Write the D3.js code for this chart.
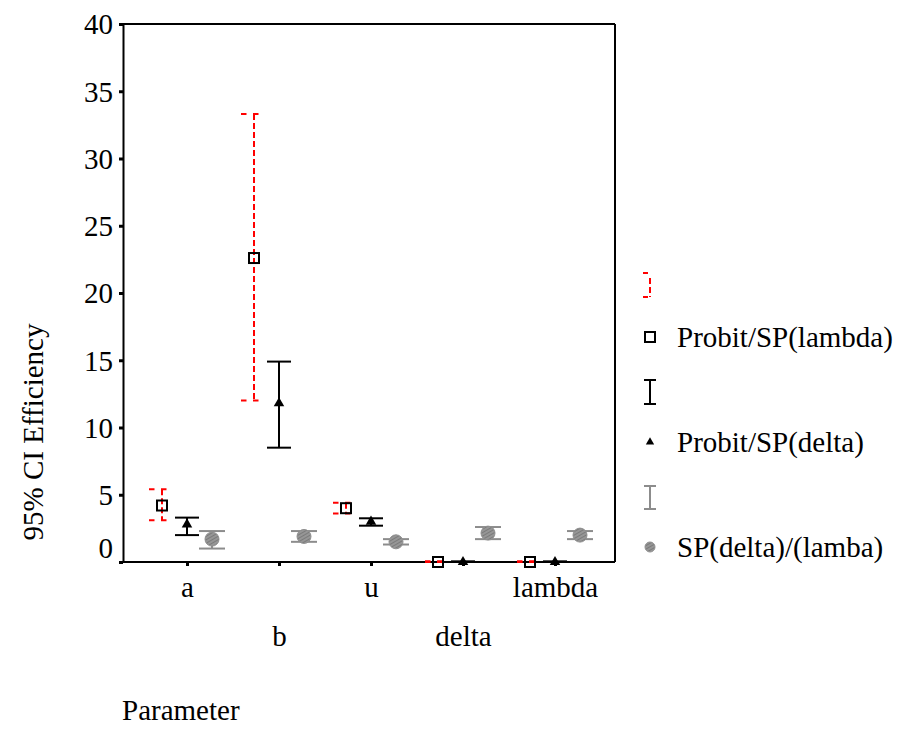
<!DOCTYPE html>
<html><head><meta charset="utf-8">
<script src="https://cdn.jsdelivr.net/npm/d3@7"></script>
<style>
body{margin:0;background:#fff}
</style>
</head><body>
<svg id="c" width="898" height="738"></svg>
<script>
// ---- data ----
const categories = ["a", "b", "u", "delta", "lambda"];
const seriesNames = ["Probit/SP(lambda)", "Probit/SP(delta)", "SP(delta)/(lamba)"];
const lambdaMean = [4.2, 22.6, 4.0, 0.0, 0.0];
const lambdaLow  = [3.1, 12.0, 3.6, 0.0, 0.0];
const lambdaHigh = [5.4, 33.3, 4.4, 0.05, 0.05];
const deltaMean  = [2.8, 11.8, 3.0, 0.0, 0.0];
const deltaLow   = [2.0, 8.5, 2.7, 0.0, 0.0];
const deltaHigh  = [3.3, 14.9, 3.25, 0.05, 0.05];
const spMean     = [1.7, 1.9, 1.5, 2.15, 2.0];
const spLow      = [1.0, 1.5, 1.3, 1.7, 1.7];
const spHigh     = [2.3, 2.3, 1.7, 2.6, 2.3];
const yTicks     = [0, 5, 10, 15, 20, 25, 30, 35, 40];
const yTitle = "95% CI Efficiency";
const xTitle = "Parameter";

// ---- layout ----
const plot = {left: 123, right: 615, top: 24, bottom: 562};
const FS = 29;
const FONT = '"Liberation Serif"';
const svg = d3.select("#c");

const x = d3.scalePoint().domain(categories).range([plot.left + 64, plot.right - 60]);
const y = d3.scaleLinear().domain([0, 40]).range([plot.bottom, plot.top]);

const RED = "#ff0000", BLACK = "#000000", GRAY = "#8c8c8c";

function styleText(sel) {
  return sel.style("font-family", FONT).style("font-size", FS + "px").style("fill", "#000");
}

// hatch pattern for gray circles
const defs = svg.append("defs");
const pat = defs.append("pattern").attr("id", "hatch").attr("patternUnits", "userSpaceOnUse")
  .attr("width", 3).attr("height", 3).attr("patternTransform", "rotate(60)");
pat.append("rect").attr("width", 3).attr("height", 3).attr("fill", "#969696");
pat.append("rect").attr("width", 1).attr("height", 3).attr("fill", "#7a7a7a");

// ---- frame ----
svg.append("line").attr("x1", plot.left).attr("x2", plot.right).attr("y1", plot.top).attr("y2", plot.top)
  .attr("stroke", "#000").attr("stroke-width", 2);
svg.append("line").attr("x1", plot.right).attr("x2", plot.right).attr("y1", plot.top).attr("y2", plot.bottom)
  .attr("stroke", "#000").attr("stroke-width", 2);

// ---- axes ----
const yAx = svg.append("g").attr("transform", `translate(${plot.left},0)`)
  .call(d3.axisLeft(y).tickValues(yTicks).tickSize(4).tickSizeOuter(0).tickPadding(6));
yAx.attr("font-family", null);
yAx.select(".domain").attr("stroke-width", 2);
yAx.selectAll(".tick line").attr("stroke-width", 3);
styleText(yAx.selectAll(".tick text")).attr("dy", d => d === 0 ? "-0.15em" : "0.34em");

const xAx = svg.append("g").attr("transform", `translate(0,${plot.bottom})`)
  .call(d3.axisBottom(x).tickSize(4).tickSizeOuter(0).tickPadding(6));
xAx.attr("font-family", null);
xAx.select(".domain").attr("stroke-width", 2).attr("d", `M${plot.left},0H${plot.right}`);
xAx.selectAll(".tick line").attr("stroke-width", 3);
styleText(xAx.selectAll(".tick text")).attr("dy", "0").attr("y", (d, i) => i % 2 === 0 ? 35 : 84);

// ---- series ----
const seriesData = [
  {name: seriesNames[0], mean: lambdaMean, low: lambdaLow, high: lambdaHigh, color: RED, off: -25, type: "lambda"},
  {name: seriesNames[1], mean: deltaMean, low: deltaLow, high: deltaHigh, color: BLACK, off: 0, type: "delta"},
  {name: seriesNames[2], mean: spMean, low: spLow, high: spHigh, color: GRAY, off: 25, type: "sp"}
];

const tri = d3.symbol().type(d3.symbolTriangle).size(48);

seriesData.forEach(s => {
  const g = svg.append("g");
  categories.forEach((c, i) => {
    const cx = x(c) + s.off;
    const yl = y(s.low[i]), yh = y(s.high[i]);
    if (s.type === "lambda") {
      g.append("line").attr("x1", cx).attr("x2", cx).attr("y1", yh).attr("y2", yl)
        .attr("stroke", RED).attr("stroke-width", 2).attr("stroke-dasharray", "6,3");
      [yh, yl].forEach(yy => g.append("line").attr("x1", cx - 13).attr("x2", cx + 5)
        .attr("y1", yy).attr("y2", yy).attr("stroke", RED).attr("stroke-width", 2)
        .attr("stroke-dasharray", "5.5,6.5"));
    } else {
      const hw = s.type === "delta" ? 12 : 13;
      g.append("line").attr("x1", cx).attr("x2", cx).attr("y1", yh).attr("y2", yl)
        .attr("stroke", s.color).attr("stroke-width", 2);
      [yh, yl].forEach(yy => g.append("line").attr("x1", cx - hw).attr("x2", cx + hw)
        .attr("y1", yy).attr("y2", yy).attr("stroke", s.color).attr("stroke-width", 2));
    }
  });
});

// markers on top
seriesData.forEach(s => {
  const g = svg.append("g");
  categories.forEach((c, i) => {
    const cx = x(c) + s.off, ym = y(s.mean[i]);
    if (s.type === "lambda") {
      g.append("rect").attr("x", cx - 5).attr("y", ym - 5).attr("width", 10).attr("height", 10)
        .attr("fill", "none").attr("stroke", "#000").attr("stroke-width", 2);
    } else if (s.type === "delta") {
      g.append("path").attr("d", tri).attr("transform", `translate(${cx},${ym})`).attr("fill", "#000");
    } else {
      g.append("circle").attr("cx", cx).attr("cy", ym).attr("r", 7)
        .attr("fill", "url(#hatch)").attr("stroke", "#909090").attr("stroke-width", 1);
    }
  });
});

// ---- legend ----
const lx = 650, tx = 677;
const leg = svg.append("g");
// red dashed I
leg.append("line").attr("x1", lx).attr("x2", lx).attr("y1", 275).attr("y2", 297)
  .attr("stroke", RED).attr("stroke-width", 2).attr("stroke-dasharray", "6,3").attr("stroke-dashoffset", -3);
[273, 297].forEach(yy => leg.append("line").attr("x1", lx - 7).attr("x2", lx).attr("y1", yy).attr("y2", yy)
  .attr("stroke", RED).attr("stroke-width", 2).attr("stroke-dasharray", "5,100"));
leg.append("rect").attr("x", lx - 5).attr("y", 337 - 5).attr("width", 10).attr("height", 10)
  .attr("fill", "none").attr("stroke", "#000").attr("stroke-width", 2);
styleText(leg.append("text").attr("x", tx).attr("y", 337).attr("dy", "0.34em")).text(seriesNames[0]);
// black I
leg.append("line").attr("x1", lx).attr("x2", lx).attr("y1", 380).attr("y2", 404).attr("stroke", "#000").attr("stroke-width", 2);
[380, 404].forEach(yy => leg.append("line").attr("x1", lx - 6).attr("x2", lx + 6).attr("y1", yy).attr("y2", yy)
  .attr("stroke", "#000").attr("stroke-width", 2));
leg.append("path").attr("d", d3.symbol().type(d3.symbolTriangle).size(30)).attr("transform", `translate(${lx},442)`).attr("fill", "#000");
styleText(leg.append("text").attr("x", tx).attr("y", 442).attr("dy", "0.34em")).text(seriesNames[1]);
// gray I
leg.append("line").attr("x1", lx).attr("x2", lx).attr("y1", 486).attr("y2", 509).attr("stroke", GRAY).attr("stroke-width", 2);
[486, 509].forEach(yy => leg.append("line").attr("x1", lx - 6).attr("x2", lx + 6).attr("y1", yy).attr("y2", yy)
  .attr("stroke", GRAY).attr("stroke-width", 2));
leg.append("circle").attr("cx", lx).attr("cy", 547).attr("r", 5).attr("fill", "url(#hatch)").attr("stroke", "#909090");
styleText(leg.append("text").attr("x", tx).attr("y", 547).attr("dy", "0.34em")).text(seriesNames[2]);

// ---- titles ----
styleText(svg.append("text").attr("transform", "translate(43,432) rotate(-90)").attr("text-anchor", "middle"))
  .text(yTitle);
styleText(svg.append("text").attr("x", 122).attr("y", 720)).text(xTitle);
</script>
</body></html>
